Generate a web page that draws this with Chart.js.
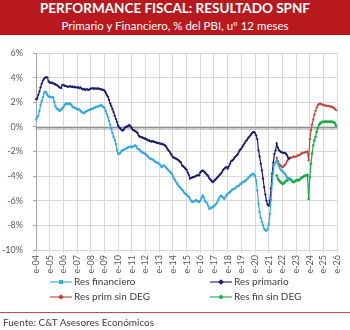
<!DOCTYPE html>
<html lang="es">
<head>
<meta charset="utf-8">
<title>Performance fiscal: resultado SPNF</title>
<script src="https://cdn.jsdelivr.net/npm/chart.js@4.4.1/dist/chart.umd.min.js"></script>
<style>
  html, body { margin: 0; padding: 0; background: #fff; }
  #wrap { position: relative; width: 350px; height: 330px; overflow: hidden; font-family: "Lato", "Open Sans", sans-serif; }
  #chartBox { position: absolute; left: 0; top: 0; width: 350px; height: 330px; }
  #banner { position: absolute; left: 0; top: 0; width: 350px; height: 35px; background: #B7191F; color: #fff; text-align: center; }
  #banner .t1 { position: absolute; left: 0; right: 0; top: 0px; font-weight: 700; font-size: 13.5px; line-height: 16px; }
  #banner .t2 { position: absolute; left: 0; right: 0; top: 18px; font-size: 11.5px; line-height: 15px; }
  #legend { position: absolute; left: 0; top: 275px; width: 350px; height: 30px; font-size: 10px; color: #404040; }
  .item { position: absolute; height: 13px; line-height: 13px; white-space: nowrap; }
  .item .ln { position: absolute; left: 0; top: 6px; width: 22px; height: 2px; opacity: 0.55; }
  .item .mk { position: absolute; left: 9px; top: 5px; width: 4px; height: 4px; }
  .item .tx { position: absolute; left: 24px; top: 0; }
  #rule { position: absolute; left: 0; top: 312px; width: 350px; height: 1px; background: #C0504D; }
  #source { position: absolute; left: 3px; top: 315px; font-size: 10px; line-height: 14px; color: #404040; }
</style>
</head>
<body>
<div id="wrap">
  <div id="chartBox"><canvas id="c"></canvas></div>
  <div id="banner">
    <div class="t1">PERFORMANCE FISCAL: RESULTADO SPNF</div>
    <div class="t2">Primario y Financiero, % del PBI, uº 12 meses</div>
  </div>
  <div id="legend"></div>
  <div id="rule"></div>
  <div id="source">Fuente: C&amp;T Asesores Económicos</div>
</div>
<script>
// Month initials used in the category labels (e-04, f-04, ...)
const monthInitials = ['e', 'f', 'm', 'a', 'm', 'j', 'j', 'a', 's', 'o', 'n', 'd'];
const firstYear = 2004;
const lastYear = 2026;          // axis ends at e-26
const yTicks = [-10, -8, -6, -4, -2, 0, 2, 4, 6];

// Res financiero, % del PBI, 12-month rolling, from e-04
const resFinanciero = [
  0.6, 0.75, 0.9, 1.3, 1.77, 2.1, 2.4, 2.72, 2.86, 2.8, 2.6, 2.45,            // 2004
  2.45, 2.4, 2.42, 2.4, 2.04, 1.7, 1.5, 1.45, 1.36, 1.3, 1.4, 1.5,            // 2005
  1.6, 1.75, 1.9, 1.85, 1.9, 1.85, 1.9, 1.8, 1.63, 1.6, 1.55, 1.5,            // 2006
  1.42, 1.45, 1.42, 1.3, 1.22, 1.15, 1.1, 1.2, 1.25, 1.3, 1.35, 1.4,          // 2007
  1.42, 1.45, 1.5, 1.55, 1.6, 1.63, 1.65, 1.7, 1.72, 1.77, 1.7, 1.63,         // 2008
  1.55, 1.3, 1.05, 0.82, 0.5, 0.2, -0.14, -0.5, -0.8, -1.09, -1.4, -1.9,      // 2009
  -2.17, -2.2, -2.1, -1.95, -1.9, -1.85, -1.8, -1.77, -1.7, -1.65, -1.63, -1.6, // 2010
  -1.65, -1.6, -1.55, -1.5, -1.6, -1.77, -1.8, -1.9, -2.0, -2.05, -2.1, -2.17,  // 2011
  -2.2, -2.3, -2.4, -2.5, -2.58, -2.6, -2.65, -2.7, -2.8, -2.86, -2.9, -2.95,   // 2012
  -3.0, -3.1, -3.27, -3.2, -3.13, -3.2, -3.3, -3.4, -3.53, -3.6, -3.7, -3.8,    // 2013
  -4.0, -4.2, -4.35, -4.5, -4.65, -4.8, -4.9, -5.0, -5.1, -5.2, -5.35, -5.44,   // 2014
  -5.5, -5.6, -5.7, -5.85, -6.0, -6.1, -6.05, -6.0, -5.95, -6.0, -6.05, -6.1,   // 2015
  -6.0, -5.8, -5.58, -5.7, -6.0, -6.1, -6.2, -6.4, -6.66, -6.6, -6.55, -6.5,    // 2016
  -6.45, -6.35, -6.25, -6.1, -5.9, -5.7, -5.58, -5.65, -5.75, -5.85, -5.7, -5.55, // 2017
  -5.45, -5.35, -5.3, -5.2, -5.1, -5.05, -5.03, -4.95, -4.85, -4.8, -4.76, -4.65, // 2018
  -4.6, -4.49, -4.45, -4.4, -4.35, -4.25, -4.15, -4.05, -3.94, -3.9, -3.8, -3.85, // 2019
  -4.0, -4.35, -5.17, -6.25, -6.9, -7.4, -7.7, -8.0, -8.3, -8.4, -8.43, -8.3,   // 2020
  -7.9, -7.07, -5.9, -4.6, -3.6, -3.0, -2.85, -2.72, -3.0, -3.2, -3.4, -3.53,   // 2021
  -3.6, -3.7, -3.8, -3.94, -4.1, -4.2, -4.2                                     // 2022 (e-j)
];

// Res primario, % del PBI, 12-month rolling, from e-04
const resPrimario = [
  2.24, 2.3, 2.6, 2.86, 3.2, 3.5, 3.75, 3.9, 4.0, 4.03, 4.0, 3.7,             // 2004
  3.6, 3.58, 3.6, 3.54, 3.5, 3.45, 3.4, 3.35, 3.25, 3.2, 3.15, 3.4,           // 2005
  3.4, 3.35, 3.32, 3.3, 3.25, 3.28, 3.3, 3.25, 3.27, 3.22, 3.25, 3.2,         // 2006
  3.2, 3.22, 3.15, 3.2, 3.1, 3.05, 3.08, 3.0, 3.05, 3.05, 3.0, 3.05,          // 2007
  3.1, 3.13, 3.12, 3.1, 3.13, 3.1, 3.12, 3.1, 3.08, 3.05, 3.02, 3.0,          // 2008
  2.95, 2.8, 2.6, 2.45, 2.2, 1.9, 1.7, 1.45, 1.2, 0.9, 0.65, 0.4,             // 2009
  0.1, -0.05, -0.15, -0.25, -0.3, -0.2, -0.05, 0.0, 0.05, 0.1, 0.14, 0.05,    // 2010
  -0.1, -0.25, -0.3, -0.35, -0.4, -0.5, -0.7, -0.8, -0.82, -0.85, -0.9, -0.95, // 2011
  -0.95, -1.0, -1.09, -1.1, -1.15, -1.2, -1.15, -1.2, -1.22, -1.25, -1.3, -1.3, // 2012
  -1.35, -1.36, -1.38, -1.4, -1.45, -1.5, -1.6, -1.76, -1.9, -2.0, -2.15, -2.3, // 2013
  -2.45, -2.5, -2.55, -2.6, -2.65, -2.72, -2.8, -2.9, -3.13, -3.2, -3.3, -3.4,  // 2014
  -3.5, -3.7, -3.9, -4.2, -4.15, -4.1, -4.08, -4.05, -4.0, -3.95, -3.9, -3.94,  // 2015
  -3.7, -3.6, -3.55, -3.6, -3.7, -3.8, -3.9, -4.0, -4.2, -4.3, -4.4, -4.49,     // 2016
  -4.4, -4.3, -4.2, -4.1, -4.0, -3.9, -3.8, -3.67, -3.5, -3.4, -3.3, -3.27,     // 2017
  -3.4, -3.2, -3.0, -2.8, -2.72, -2.65, -2.5, -2.4, -2.31, -2.2, -2.0, -1.85,   // 2018
  -1.77, -1.6, -1.45, -1.3, -1.15, -1.05, -0.9, -0.8, -0.68, -0.55, -0.45, -0.41, // 2019
  -0.5, -0.7, -1.0, -1.9, -2.4, -3.0, -3.53, -4.2, -4.9, -5.5, -6.0, -6.3,      // 2020
  -6.4, -6.0, -5.0, -3.8, -2.9, -2.2, -1.9, -1.36, -1.7, -1.9, -2.0, -2.04,     // 2021
  -2.1, -2.1, -2.12, -2.17, -2.3, -2.5, -2.58                                   // 2022 (e-j)
];

// "sin DEG" series start in a-21 (August 2021)
const sinDegStartYear = 2021;
const sinDegStartMonth = 8;

// Res prim sin DEG, from a-21
const resPrimSinDEG = [
  -2.5, -2.8, -3.0, -3.1, -3.2,                                                // 2021 (a-d)
  -3.27, -3.2, -3.1, -3.0, -2.8, -2.65, -2.58, -2.5, -2.5, -2.45, -2.4, -2.45,  // 2022
  -2.4, -2.35, -2.3, -2.3, -2.2, -2.15, -2.1, -2.1, -2.05, -2.04, -2.0, -2.72,  // 2023
  -1.0, -0.27, 0.2, 0.6, 1.0, 1.3, 1.55, 1.75, 1.85, 1.9, 1.85, 1.8,           // 2024
  1.78, 1.75, 1.72, 1.7, 1.7, 1.68, 1.65, 1.63, 1.6, 1.55, 1.45, 1.36          // 2025
];

// Res fin sin DEG, from a-21
const resFinSinDEG = [
  -3.94, -4.2, -4.35, -4.45, -4.55,                                            // 2021 (a-d)
  -4.63, -4.6, -4.5, -4.4, -4.35, -4.3, -4.2, -4.25, -4.35, -4.45, -4.49, -4.4, // 2022
  -4.35, -4.3, -4.35, -4.3, -4.2, -4.1, -4.08, -4.0, -3.95, -3.94, -3.9, -5.85, // 2023
  -4.08, -3.0, -2.17, -1.5, -1.1, -0.82, -0.4, -0.1, 0.15, 0.27, 0.35, 0.4,    // 2024
  0.41, 0.42, 0.43, 0.42, 0.41, 0.42, 0.43, 0.41, 0.4, 0.38, 0.3, 0.1          // 2025
];

// Category labels, one per month, e-04 ... e-26
const labels = [];
for (let y = firstYear; y <= lastYear; y++) {
  for (let m = 0; m < 12; m++) {
    if (y === lastYear && m > 0) break;
    labels.push(monthInitials[m] + '-' + String(y).slice(2));
  }
}

const sinDegOffset = (sinDegStartYear - firstYear) * 12 + (sinDegStartMonth - 1);
const padFrom = (arr, offset) => labels.map((_, i) => {
  const k = i - offset;
  return k >= 0 && k < arr.length ? arr[k] : null;
});

const series = [
  { label: 'Res financiero',   data: padFrom(resFinanciero, 0), color: '#2FA9E3', point: 'rect' },
  { label: 'Res primario',     data: padFrom(resPrimario, 0),   color: '#1C1C6E', point: 'rectRot' },
  { label: 'Res prim sin DEG', data: padFrom(resPrimSinDEG, sinDegOffset), color: '#C3473F', point: 'rectRot' },
  { label: 'Res fin sin DEG',  data: padFrom(resFinSinDEG, sinDegOffset),  color: '#17AD4A', point: 'circle' }
];

// 0% axis line with a small tick below it for every month
const zeroAxisTicks = {
  id: 'zeroAxisTicks',
  beforeDatasetsDraw(chart) {
    const { ctx, scales: { x, y } } = chart;
    const y0 = Math.round(y.getPixelForValue(0)) + 0.5;
    ctx.save();
    ctx.strokeStyle = '#8c8c8c';
    ctx.lineWidth = 1;
    ctx.beginPath();
    ctx.moveTo(x.left, y0);
    ctx.lineTo(x.right, y0);
    ctx.stroke();
    ctx.strokeStyle = '#9a9a9a';
    ctx.lineWidth = 0.6;
    ctx.beginPath();
    for (let i = 0; i < labels.length; i++) {
      const px = x.getPixelForValue(i);
      ctx.moveTo(px, y0);
      ctx.lineTo(px, y0 + 2.5);
    }
    ctx.stroke();
    ctx.restore();
  }
};

const chart = new Chart(document.getElementById('c'), {
  type: 'line',
  data: {
    labels,
    datasets: series.map(s => ({
      label: s.label,
      data: s.data,
      borderColor: s.color,
      backgroundColor: s.color,
      borderWidth: 1.2,
      pointStyle: s.point,
      pointRadius: 1.1,
      pointBorderWidth: 0.5,
      pointHoverRadius: 2,
      tension: 0,
      spanGaps: false
    }))
  },
  options: {
    responsive: true,
    maintainAspectRatio: false,
    animation: false,
    layout: { padding: { left: 0, right: 9, top: 53, bottom: 0 } },
    plugins: { legend: { display: false }, tooltip: { enabled: false } },
    scales: {
      x: {
        type: 'category',
        offset: false,
        afterFit(scale) { scale.height = 80; },
        grid: { color: '#D9D9D9', lineWidth: 1, drawTicks: true, tickLength: 3, tickColor: '#D9D9D9' },
        border: { display: false },
        ticks: {
          autoSkip: false,
          maxRotation: 90,
          minRotation: 90,
          padding: 2,
          color: '#595959',
          font: { family: 'Lato', size: 9 },
          callback(value, index) {
            return index % 12 === 0 ? labels[index] : null;
          }
        }
      },
      y: {
        min: -10,
        max: 6,
        afterFit(scale) { scale.width = 36; },
        afterBuildTicks(scale) { scale.ticks = yTicks.map(v => ({ value: v })); },
        grid: {
          color: '#D9D9D9',
          lineWidth: 1,
          tickLength: 3,
          tickColor: '#A6A6A6'
        },
        border: { display: true, color: '#A6A6A6' },
        ticks: {
          padding: 10,
          color: '#595959',
          font: { family: 'Lato', size: 9 },
          callback: v => v + '%'
        }
      }
    }
  },
  plugins: [zeroAxisTicks]
});

// Two-column legend under the plot, built from the chart's datasets
const legendPos = [
  { left: 50, top: 0 },   // Res financiero
  { left: 210, top: 0 },  // Res primario
  { left: 50, top: 15 },  // Res prim sin DEG
  { left: 210, top: 15 }  // Res fin sin DEG
];
const legendEl = document.getElementById('legend');
chart.data.datasets.forEach((ds, i) => {
  const item = document.createElement('div');
  item.className = 'item';
  item.style.left = legendPos[i].left + 'px';
  item.style.top = legendPos[i].top + 'px';
  const ln = document.createElement('span');
  ln.className = 'ln';
  ln.style.background = ds.borderColor;
  const mk = document.createElement('span');
  mk.className = 'mk';
  mk.style.background = ds.borderColor;
  if (ds.pointStyle === 'rectRot') mk.style.transform = 'rotate(45deg)';
  if (ds.pointStyle === 'circle') mk.style.borderRadius = '50%';
  const tx = document.createElement('span');
  tx.className = 'tx';
  tx.textContent = ds.label;
  item.append(ln, mk, tx);
  legendEl.appendChild(item);
});
</script>
</body>
</html>
